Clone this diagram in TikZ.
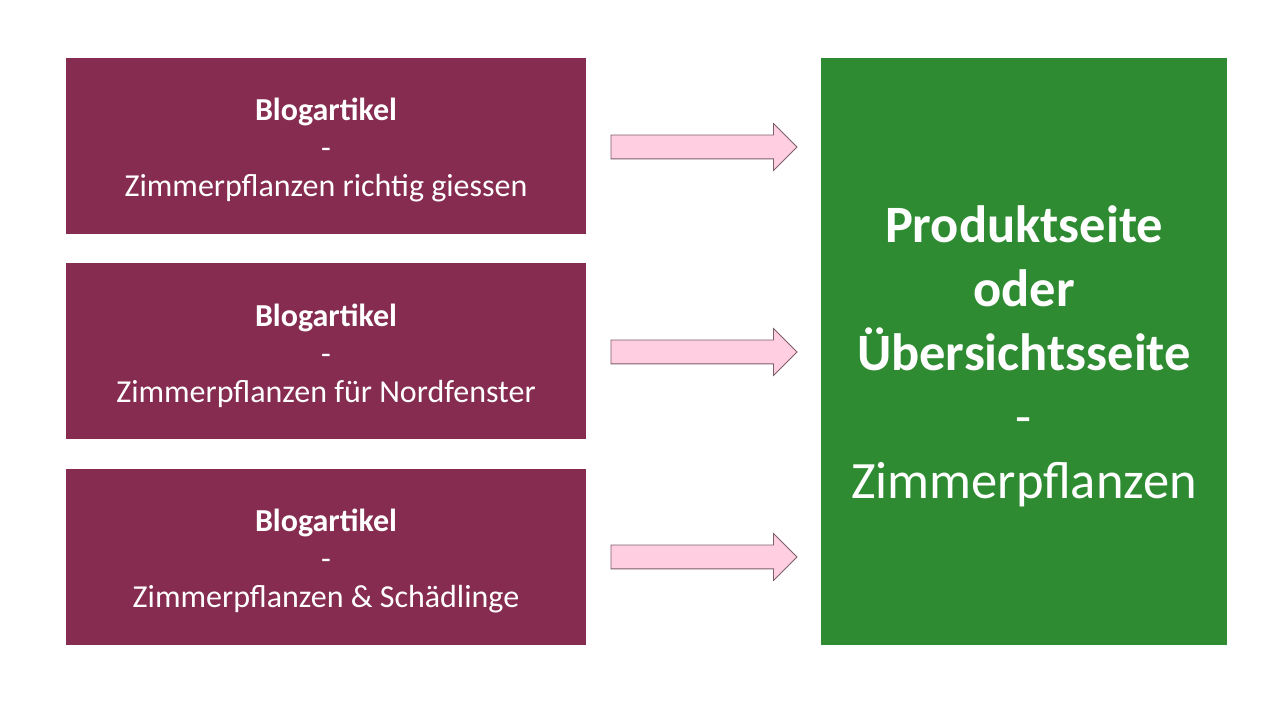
\documentclass[tikz,border=0pt]{standalone}
\usepackage{fontspec}
\setmainfont{Carlito}
\usetikzlibrary{positioning}
\usetikzlibrary{shapes,shapes.arrows}
\definecolor{blogred}{RGB}{134,44,80}
\definecolor{pagegreen}{RGB}{46,139,50}
\definecolor{arrowpink}{RGB}{255,206,225}
\definecolor{arrowline}{RGB}{125,95,108}
\tikzstyle{blogbox}=[rectangle,fill=blogred,text=white,minimum width=520pt,minimum height=176pt,inner sep=0pt,align=center,font=\fontsize{32}{38}\selectfont]
\tikzstyle{pagebox}=[rectangle,fill=pagegreen,text=white,minimum width=406pt,minimum height=587pt,inner sep=0pt,align=center,font=\fontsize{52.5}{64}\selectfont]
\tikzstyle{boxtext}=[fill=none,minimum width=0pt,minimum height=0pt]
\tikzstyle{linkarrow}=[single arrow,draw=arrowline,fill=arrowpink,minimum height=186pt,minimum width=46pt,single arrow head extend=11.5pt,inner xsep=0pt,inner ysep=11.5pt,line width=0.8pt]

\begin{document}
\begin{tikzpicture}[x=1pt,y=1pt]

   \useasboundingbox[fill=white] (0,0) rectangle (1280,720);

    \foreach \pos/\name in {{(326,574)/blogA}, {(326,368.5)/blogB}, {(326,163)/blogC}}
        \node[blogbox] (\name) at \pos {};

    % texts sit a little below the box centres
    \foreach \name/\title in {blogA/Zimmerpflanzen richtig giessen, blogB/Zimmerpflanzen für Nordfenster, blogC/Zimmerpflanzen \& Schädlinge}
        \node[blogbox,boxtext] (\name-text) at ([yshift=-4pt]\name.center) {\textbf{Blogartikel}\\-\\\title};

    \node[pagebox] (page) at (1024,368.5) {};
    \node[pagebox,boxtext] (page-text) at ([yshift=-5pt]page.center) {\textbf{Produktseite}\\\textbf{oder}\\\textbf{Übersichtsseite}\\-\\Zimmerpflanzen};

    \foreach \pos/\name in {{(698,573)/arrowA}, {(698,368)/arrowB}, {(698,163)/arrowC}}
        \node[linkarrow] (\name) at \pos {};

\end{tikzpicture}
\end{document}
